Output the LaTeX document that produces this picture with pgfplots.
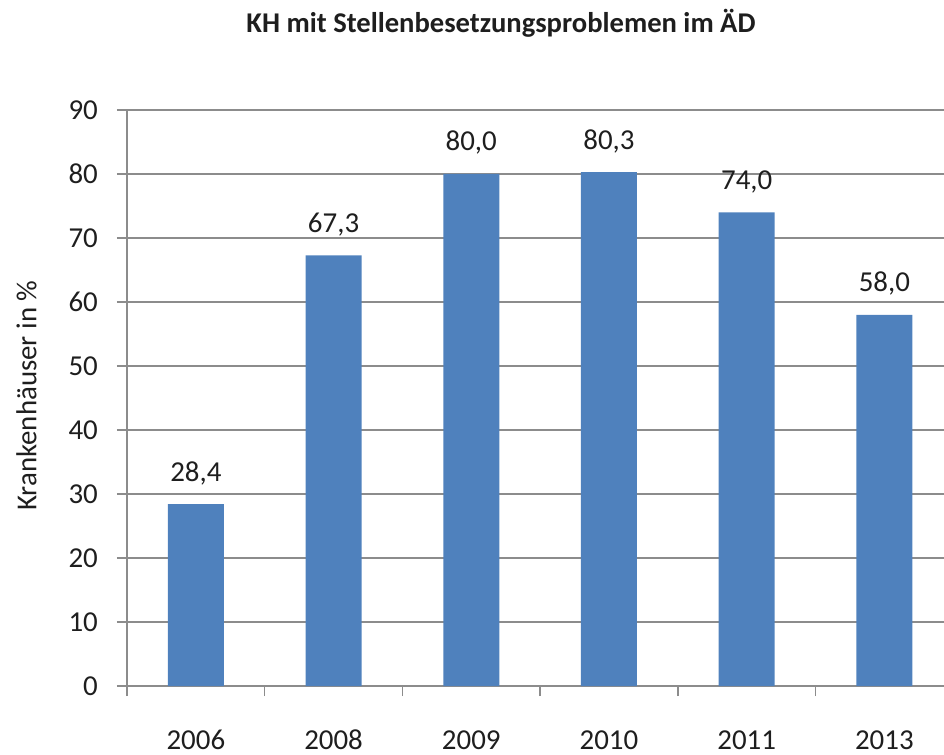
\documentclass[border=0pt]{standalone}
\usepackage{pgfplots}
\pgfplotsset{compat=1.18}
\usepackage{fontspec}
\setmainfont{Carlito}
\definecolor{barblue}{HTML}{4F81BD}
\definecolor{gridgray}{HTML}{8C8C8C}
\definecolor{txt}{HTML}{1E1E1E}
\begin{document}
\begin{tikzpicture}
\begin{axis}[
  at={(127bp,69bp)}, anchor=south west,
  scale only axis,
  width=817bp, height=576bp,
  xmin=-0.5, xmax=5.433,
  ymin=0, ymax=90,
  axis x line*=bottom, axis y line*=left,
  axis line style={gridgray, line width=1.5bp},
  ytick={0,10,...,90},
  xtick={-0.5,0.5,1.5,2.5,3.5,4.5},
  xticklabels={},
  extra x ticks={0,1,2,3,4,5},
  extra x tick labels={2006,2008,2009,2010,2011,2013},
  extra x tick style={major tick length=0pt, grid=none},
  tick style={gridgray, line width=1.5bp},
  major tick length=10bp,
  tick align=outside,
  ymajorgrids,
  grid style={gridgray, line width=1.5bp},
  /pgf/number format/assume math mode=true,
  ticklabel style={font=\fontsize{29}{34}\selectfont, text=txt, inner sep=0pt},
  yticklabel style={anchor=east, xshift=-19bp},
  xticklabel style={anchor=base, yshift=-63bp},
  ylabel={Krankenhäuser in \%},
  ylabel style={at={(axis description cs:-0.123,0.504)}, anchor=center, font=\fontsize{29}{34}\selectfont, text=txt},
  ybar, bar width=56bp,
  nodes near coords={\pgfmathprintnumber[fixed,fixed zerofill,precision=1,use comma,assume math mode=true]{\pgfplotspointmeta}},
  every node near coord/.append style={anchor=base, yshift=23bp, inner sep=0pt, font=\fontsize{29}{34}\selectfont, text=txt},
  clip=false,
]
\addplot[fill=barblue, draw=none] coordinates {(0,28.4) (1,67.3) (2,80.0) (3,80.3) (4,74.0) (5,58.0)};
\end{axis}
\node[font=\bfseries\fontsize{28.7}{34}\selectfont, text=txt] at (501bp,732bp) {KH mit Stellenbesetzungsproblemen im ÄD};
\pgfresetboundingbox
\path[use as bounding box] (0,0) rectangle (944bp,755bp);
\end{tikzpicture}
\end{document}
